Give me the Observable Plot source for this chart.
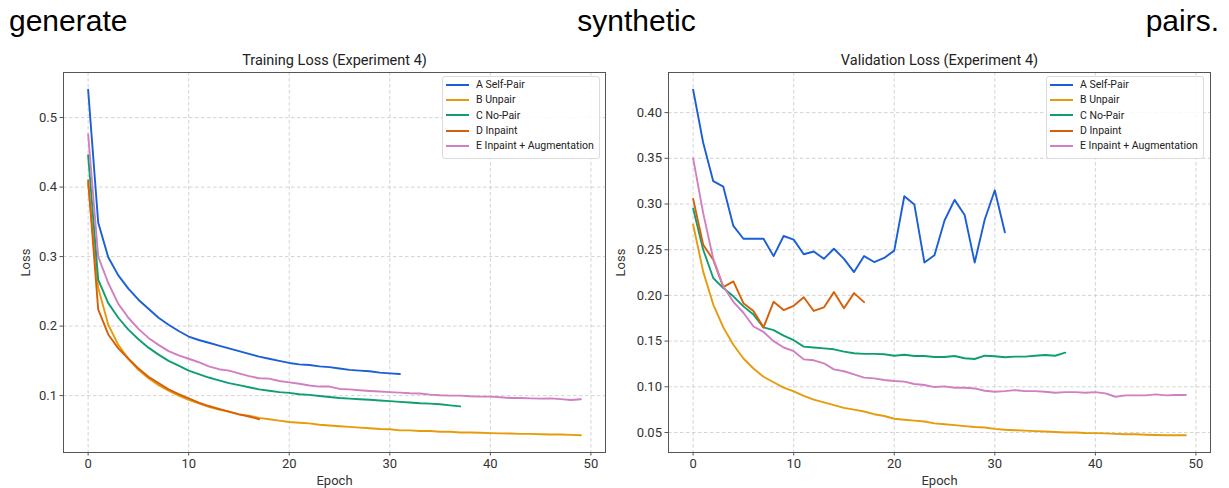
<!DOCTYPE html>
<html>
<head>
<meta charset="utf-8">
<script src="https://cdn.jsdelivr.net/npm/d3@7"></script>
<script src="https://cdn.jsdelivr.net/npm/@observablehq/plot@0.6"></script>
<style>
  html, body { margin: 0; padding: 0; background: #fff; }
  body { width: 1229px; height: 488px; position: relative; overflow: hidden; font-family: Roboto, "Noto Sans", sans-serif; }
  #header { position: absolute; left: 9px; right: 10px; top: 6px; display: flex; justify-content: space-between;
            font-family: "Liberation Sans", Arial, sans-serif; font-size: 30px; line-height: 30px; color: #000; }
  .chart { position: absolute; top: 48px; }
  .legend { position: absolute; border: 1px solid #dcdcdc; border-radius: 3px; background: rgba(255,255,255,0.85);
            box-sizing: border-box; padding: 0px 0 0 3px; font-family: Roboto, sans-serif; font-size: 10.5px; color: #222; }
  .legend .row { display: flex; align-items: center; height: 15.3px; }
  .legend .sw { display: inline-block; width: 23px; height: 0; border-top: 2px solid; margin-right: 7px; }
</style>
</head>
<body>
<div id="header"><span>generate</span><span>synthetic</span><span>pairs.</span></div>
<div id="left" class="chart" style="left:0px"></div>
<div id="right" class="chart" style="left:614px"></div>
<div id="legL" class="legend" style="left:442px; top:76px; width:158px; height:83px"></div>
<div id="legR" class="legend" style="left:1046px; top:76px; width:158px; height:83px"></div>
<script>
const headerWords = ["generate", "synthetic", "pairs."];
const seriesNames = ["A Self-Pair", "B Unpair", "C No-Pair", "D Inpaint", "E Inpaint + Augmentation"];
const seriesColors = ["#1a5fd7", "#e69b0b", "#0f9e74", "#d75f0a", "#d07fc2"];
const titles = ["Training Loss (Experiment 4)", "Validation Loss (Experiment 4)"];
const xTicks = [0, 10, 20, 30, 40, 50];
const trainYTicks = [0.1, 0.2, 0.3, 0.4, 0.5];
const valYTicks = [0.05, 0.10, 0.15, 0.20, 0.25, 0.30, 0.35, 0.40];

// Training loss per epoch
const trainA = [0.540, 0.349, 0.299, 0.273, 0.254, 0.238, 0.225, 0.212, 0.202, 0.193, 0.185, 0.180, 0.176, 0.172, 0.168, 0.164,
  0.160, 0.156, 0.153, 0.150, 0.147, 0.145, 0.144, 0.142, 0.141, 0.139, 0.137, 0.136, 0.135, 0.133, 0.132, 0.131];
const trainB = [0.405, 0.255, 0.202, 0.173, 0.153, 0.137, 0.125, 0.115, 0.107, 0.100, 0.094, 0.089, 0.084, 0.080, 0.077, 0.073,
  0.071, 0.068, 0.066, 0.064, 0.062, 0.061, 0.060, 0.058, 0.057, 0.056, 0.055, 0.054, 0.053, 0.052, 0.0515, 0.050,
  0.050, 0.049, 0.049, 0.048, 0.048, 0.047, 0.047, 0.0465, 0.046, 0.0457, 0.0455, 0.045, 0.045, 0.0445, 0.044, 0.044, 0.0435, 0.043];
const trainC = [0.446, 0.267, 0.233, 0.212, 0.195, 0.181, 0.169, 0.159, 0.150, 0.143, 0.136, 0.131, 0.126, 0.122, 0.118, 0.115,
  0.112, 0.109, 0.107, 0.105, 0.104, 0.102, 0.101, 0.0995, 0.098, 0.0966, 0.0956, 0.0947, 0.094, 0.093, 0.092, 0.091,
  0.090, 0.089, 0.0885, 0.0875, 0.086, 0.0845];
const trainD = [0.410, 0.224, 0.188, 0.168, 0.153, 0.139, 0.127, 0.118, 0.109, 0.102, 0.096, 0.090, 0.085, 0.081, 0.077, 0.073,
  0.070, 0.066];
const trainE = [0.476, 0.300, 0.262, 0.232, 0.212, 0.196, 0.183, 0.173, 0.164, 0.158, 0.153, 0.148, 0.142, 0.138, 0.136, 0.132,
  0.128, 0.125, 0.1245, 0.121, 0.119, 0.117, 0.1145, 0.113, 0.113, 0.1096, 0.109, 0.1077, 0.1067, 0.106, 0.105, 0.1043,
  0.1034, 0.103, 0.1014, 0.1005, 0.100, 0.100, 0.099, 0.0985, 0.0985, 0.0976, 0.0966, 0.0966, 0.096, 0.0956, 0.096, 0.095, 0.0937, 0.0947];

// Validation loss per epoch
const valA = [0.425, 0.367, 0.325, 0.319, 0.276, 0.262, 0.262, 0.262, 0.243, 0.265, 0.261, 0.245, 0.248, 0.240, 0.251, 0.240,
  0.2255, 0.243, 0.2365, 0.241, 0.249, 0.3085, 0.2994, 0.236, 0.244, 0.282, 0.3045, 0.288, 0.236, 0.283, 0.315, 0.269];
const valB = [0.2775, 0.226, 0.190, 0.165, 0.146, 0.131, 0.120, 0.111, 0.105, 0.099, 0.095, 0.090, 0.086, 0.083, 0.080, 0.077,
  0.075, 0.073, 0.070, 0.068, 0.065, 0.064, 0.063, 0.062, 0.060, 0.059, 0.058, 0.057, 0.056, 0.0555, 0.054, 0.053,
  0.0525, 0.052, 0.0515, 0.051, 0.0505, 0.050, 0.050, 0.0495, 0.0493, 0.049, 0.0485, 0.048, 0.048, 0.0475, 0.0472, 0.047, 0.047, 0.047];
const valC = [0.295, 0.250, 0.219, 0.208, 0.199, 0.188, 0.179, 0.165, 0.162, 0.156, 0.151, 0.144, 0.143, 0.142, 0.141, 0.1385,
  0.1367, 0.136, 0.136, 0.1356, 0.134, 0.135, 0.1337, 0.1337, 0.1326, 0.1326, 0.1337, 0.1312, 0.1304, 0.134, 0.1334, 0.1323,
  0.133, 0.133, 0.134, 0.1348, 0.134, 0.1374];
const valD = [0.3056, 0.2555, 0.239, 0.209, 0.2153, 0.1915, 0.183, 0.165, 0.193, 0.184, 0.1886, 0.198, 0.183, 0.1868, 0.2036, 0.186,
  0.2025, 0.1926];
const valE = [0.350, 0.290, 0.240, 0.210, 0.193, 0.181, 0.166, 0.160, 0.150, 0.143, 0.139, 0.130, 0.129, 0.1257, 0.119, 0.117,
  0.1136, 0.110, 0.1092, 0.1074, 0.1063, 0.1056, 0.103, 0.102, 0.0997, 0.1004, 0.099, 0.099, 0.0982, 0.0957, 0.0946, 0.0953,
  0.0964, 0.0953, 0.0953, 0.0946, 0.0935, 0.0942, 0.0942, 0.0935, 0.0942, 0.0928, 0.0891, 0.0906, 0.0906, 0.0906, 0.0917, 0.0906, 0.091, 0.091];

function toRows(seriesArrays) {
  const rows = [];
  seriesArrays.forEach((vals, i) => vals.forEach((v, e) => rows.push({epoch: e, loss: v, series: seriesNames[i]})));
  return rows;
}
const trainRows = toRows([trainA, trainB, trainC, trainD, trainE]);
const valRows = toRows([valA, valB, valC, valD, valE]);

function pad(lo, hi) { const m = (hi - lo) * 0.05; return [lo - m, hi + m]; }

function makeChart({rows, yTicks, yFormat, title, width, marginLeft, marginRight, yLabelOffset}) {
  const xs = rows.map(d => d.epoch), ys = rows.map(d => d.loss);
  return Plot.plot({
    width, height: 440,
    marginTop: 24, marginBottom: 36, marginLeft, marginRight,
    style: {fontFamily: "Roboto, sans-serif", fontSize: "13px", color: "#333", background: "transparent"},
    x: {domain: pad(d3.min(xs), d3.max(xs))},
    y: {domain: pad(d3.min(ys), d3.max(ys))},
    color: {domain: seriesNames, range: seriesColors},
    marks: [
      Plot.gridX(xTicks, {stroke: "#c8c8c8", strokeOpacity: 1, strokeDasharray: "3.5,2.5", strokeWidth: 0.8}),
      Plot.gridY(yTicks, {stroke: "#c8c8c8", strokeOpacity: 1, strokeDasharray: "3.5,2.5", strokeWidth: 0.8}),
      Plot.line(rows, {x: "epoch", y: "loss", z: "series", stroke: "series", strokeWidth: 1.9}),
      Plot.frame({stroke: "#555", strokeWidth: 1}),
      Plot.axisX({ticks: xTicks, tickSize: 3.5, tickPadding: 3, stroke: "#555", fontSize: 13,
        label: "Epoch", labelAnchor: "center", labelArrow: "none", labelOffset: 32}),
      Plot.axisY({ticks: yTicks, tickFormat: d3.format(yFormat), tickSize: 3.5, tickPadding: 3, stroke: "#555", fontSize: 13,
        label: "Loss", labelAnchor: "center", labelArrow: "none", labelOffset: yLabelOffset}),
      Plot.text([title], {frameAnchor: "top", lineAnchor: "middle", dy: -12, fontSize: 14.5, fill: "#222"})
    ]
  });
}

document.getElementById("left").append(makeChart({rows: trainRows, yTicks: trainYTicks, yFormat: ".1f", title: titles[0],
  width: 614, marginLeft: 63, marginRight: 9, yLabelOffset: 43}));
document.getElementById("right").append(makeChart({rows: valRows, yTicks: valYTicks, yFormat: ".2f", title: titles[1],
  width: 615, marginLeft: 54, marginRight: 19, yLabelOffset: 53}));

function buildLegend(id) {
  const el = document.getElementById(id);
  seriesNames.forEach((name, i) => {
    const row = document.createElement("div");
    row.className = "row";
    const sw = document.createElement("span");
    sw.className = "sw";
    sw.style.borderTopColor = seriesColors[i];
    const tx = document.createElement("span");
    tx.textContent = name;
    row.append(sw, tx);
    el.append(row);
  });
}
buildLegend("legL");
buildLegend("legR");
</script>
</body>
</html>
